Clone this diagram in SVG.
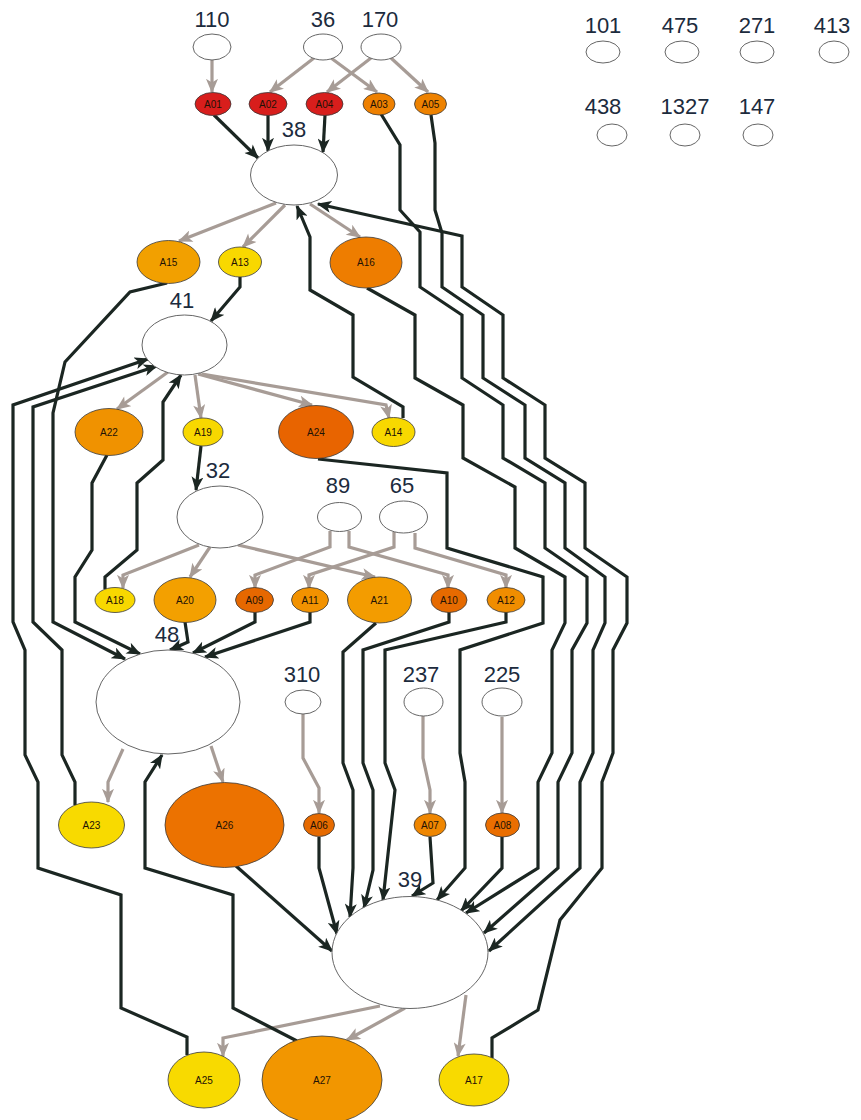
<svg xmlns="http://www.w3.org/2000/svg" width="861" height="1120" viewBox="0 0 861 1120">
<style>
.e{fill:#fff;stroke:#666;stroke-width:1}
.n{stroke:#3a3a3a;stroke-width:0.8}
.t{font-family:"Liberation Sans",Arial,sans-serif;font-size:10px;fill:#1e1206;text-anchor:middle}
.l{font-family:"Liberation Sans",Arial,sans-serif;font-size:22px;fill:#1c2b3d;text-anchor:middle}
.g{fill:none;stroke:#a79c96;stroke-width:3.2;marker-end:url(#ag)}
.d{fill:none;stroke:#1b2622;stroke-width:3.2;marker-end:url(#ad)}
</style>
<defs>
<marker id="ag" markerUnits="userSpaceOnUse" markerWidth="15" markerHeight="12" viewBox="0 0 12 10" refX="11" refY="5" orient="auto"><path d="M0,0 L12,5 L0,10 L3,5 z" fill="#a79c96"/></marker>
<marker id="ad" markerUnits="userSpaceOnUse" markerWidth="15" markerHeight="12" viewBox="0 0 12 10" refX="11" refY="5" orient="auto"><path d="M0,0 L12,5 L0,10 L3,5 z" fill="#1b2622"/></marker>
</defs>
<rect width="861" height="1120" fill="#fff"/>
<g id="connectors">
<path class="g" d="M212,60 L212,92"/>
<path class="g" d="M314,58 L270,92"/>
<path class="g" d="M331,58 L377,92"/>
<path class="g" d="M371,58 L327,92"/>
<path class="g" d="M391,58 L428,92"/>
<path class="g" d="M276,203 L179,241"/>
<path class="g" d="M285,205 L243,247"/>
<path class="g" d="M310,204 L360,237"/>
<path class="g" d="M168,372 L117,409"/>
<path class="g" d="M195,375 L201,418"/>
<path class="g" d="M198,374 L312,405"/>
<path class="g" d="M202,374 L386,405 L389,418"/>
<path class="g" d="M199,545 L123,575 L123,588"/>
<path class="g" d="M210,547 L190,577"/>
<path class="g" d="M238,545 L375,577"/>
<path class="g" d="M330,531 L330,547 L255,575 L255,588"/>
<path class="g" d="M349,531 L349,547 L448,575 L448,588"/>
<path class="g" d="M394,532 L394,547 L309,575 L309,588"/>
<path class="g" d="M415,533 L415,548 L506,575 L506,588"/>
<path class="g" d="M123,749 L108,782 L108,802"/>
<path class="g" d="M211,746 L223,782"/>
<path class="g" d="M303,714 L303,758 L319,788 L319,813"/>
<path class="g" d="M423,716 L423,758 L430,790 L430,813"/>
<path class="g" d="M502,717 L502,813"/>
<path class="g" d="M380,1006 L223,1038 L223,1056"/>
<path class="g" d="M405,1008 L347,1040"/>
<path class="g" d="M466,995 L458,1056"/>
<path class="d" d="M214,115 L258,158"/>
<path class="d" d="M268,115 L268,151"/>
<path class="d" d="M325,115 L323,152"/>
<path class="d" d="M381,114 L400,145 L400,210 L420,232 L420,287 L462,315 L462,378 L503,405 L503,458 L545,483 L545,548 L587,577 L587,623 L572,650 L572,753 L558,782 L558,868 L484,933"/>
<path class="d" d="M431,115 L435,143 L435,210 L442,233 L442,287 L483,315 L483,378 L525,405 L525,458 L565,483 L565,548 L605,577 L605,623 L593,650 L593,753 L580,782 L580,868 L489,951"/>
<path class="d" d="M367,288 L415,315 L415,378 L463,405 L463,458 L515,487 L515,548 L565,577 L565,623 L552,650 L552,753 L538,782 L538,868 L466,913"/>
<path class="d" d="M318,459 L447,473 L447,548 L543,577 L543,623 L460,650 L460,753 L465,782 L465,868 L437,900"/>
<path class="d" d="M492,1058 L492,1038 L538,1010 L560,920 L602,868 L602,782 L613,753 L613,650 L627,623 L627,577 L585,548 L585,483 L545,458 L545,405 L503,378 L503,315 L462,287 L462,236 L318,204"/>
<path class="d" d="M403,418 L403,407 L353,377 L353,315 L310,290 L310,237 L297,206"/>
<path class="d" d="M240,277 L240,287 L211,321"/>
<path class="d" d="M201,446 L196,490"/>
<path class="d" d="M167,283 L130,292 L65,362 L53,413 L53,622 L125,659"/>
<path class="d" d="M107,455 L92,483 L92,550 L75,577 L75,622 L140,654"/>
<path class="d" d="M105,589 L105,577 L137,550 L137,483 L163,460 L163,402 L181,375"/>
<path class="d" d="M185,622 L188,642 L170,650"/>
<path class="d" d="M255,612 L255,622 L193,653"/>
<path class="d" d="M310,612 L310,622 L205,657"/>
<path class="d" d="M376,623 L343,652 L343,763 L353,790 L353,868 L350,917"/>
<path class="d" d="M449,612 L449,622 L363,650 L363,763 L373,790 L373,870 L364,908"/>
<path class="d" d="M506,612 L506,622 L385,650 L385,763 L395,790 L383,900"/>
<path class="d" d="M236,866 L332,951"/>
<path class="d" d="M319,837 L319,868 L337,934"/>
<path class="d" d="M430,837 L433,883 L412,896"/>
<path class="d" d="M502,837 L502,868 L461,911"/>
<path class="d" d="M75,805 L75,782 L62,755 L62,650 L33,622 L33,407 L157,366"/>
<path class="d" d="M187,1055 L187,1037 L121,1008 L121,895 L38,868 L38,782 L25,755 L25,650 L13,622 L13,405 L148,359"/>
<path class="d" d="M297,1041 L233,1008 L233,895 L145,868 L145,782 L162,755"/>
</g>
<g id="n110"><ellipse class="e" cx="212" cy="47" rx="19" ry="13"/><text class="l" x="212" y="27">110</text></g>
<g id="n36"><ellipse class="e" cx="323" cy="47" rx="19.5" ry="13"/><text class="l" x="323" y="27">36</text></g>
<g id="n170"><ellipse class="e" cx="381" cy="47" rx="20" ry="13"/><text class="l" x="380" y="27">170</text></g>
<g id="n101"><ellipse class="e" cx="603" cy="52" rx="17" ry="11"/><text class="l" x="603" y="33">101</text></g>
<g id="n475"><ellipse class="e" cx="682" cy="52" rx="17" ry="11"/><text class="l" x="680" y="33">475</text></g>
<g id="n271"><ellipse class="e" cx="757" cy="52" rx="17" ry="11"/><text class="l" x="757" y="33">271</text></g>
<g id="n413"><ellipse class="e" cx="834" cy="52" rx="15" ry="11"/><text class="l" x="832" y="33">413</text></g>
<g id="n438"><ellipse class="e" cx="612" cy="135" rx="15" ry="11"/><text class="l" x="603" y="114">438</text></g>
<g id="n1327"><ellipse class="e" cx="685" cy="135" rx="15" ry="11"/><text class="l" x="685" y="114">1327</text></g>
<g id="n147"><ellipse class="e" cx="758" cy="135" rx="15" ry="11"/><text class="l" x="757" y="114">147</text></g>
<g id="n38"><ellipse class="e" cx="294" cy="175" rx="43.5" ry="30"/><text class="l" x="294" y="137">38</text></g>
<g id="n41"><ellipse class="e" cx="184.5" cy="345" rx="42.5" ry="30"/><text class="l" x="182" y="308">41</text></g>
<g id="n32"><ellipse class="e" cx="220" cy="517" rx="43" ry="31"/><text class="l" x="218" y="478">32</text></g>
<g id="n89"><ellipse class="e" cx="339.5" cy="517" rx="22" ry="14.5"/><text class="l" x="338" y="493">89</text></g>
<g id="n65"><ellipse class="e" cx="403.5" cy="517" rx="24" ry="16"/><text class="l" x="402" y="493">65</text></g>
<g id="n48"><ellipse class="e" cx="168" cy="702" rx="72" ry="52"/><text class="l" x="167" y="642">48</text></g>
<g id="n310"><ellipse class="e" cx="303" cy="702" rx="18" ry="12"/><text class="l" x="302" y="682">310</text></g>
<g id="n237"><ellipse class="e" cx="423.5" cy="702" rx="19.5" ry="14"/><text class="l" x="421" y="682">237</text></g>
<g id="n225"><ellipse class="e" cx="502" cy="702" rx="20" ry="14"/><text class="l" x="502" y="682">225</text></g>
<g id="n39"><ellipse class="e" cx="410" cy="952.5" rx="78" ry="56"/><text class="l" x="410" y="887">39</text></g>
<g id="A01"><ellipse class="n" cx="213" cy="104" rx="18" ry="11.5" fill="#d81e1c"/><text class="t" x="213" y="107.5">A01</text></g>
<g id="A02"><ellipse class="n" cx="268" cy="104" rx="19" ry="11.5" fill="#d81e1c"/><text class="t" x="268" y="107.5">A02</text></g>
<g id="A04"><ellipse class="n" cx="324.5" cy="104" rx="18.5" ry="11.5" fill="#d81e1c"/><text class="t" x="324.5" y="107.5">A04</text></g>
<g id="A03"><ellipse class="n" cx="379" cy="104" rx="16" ry="11" fill="#ee8000"/><text class="t" x="379" y="107.5">A03</text></g>
<g id="A05"><ellipse class="n" cx="430.5" cy="104" rx="16" ry="11" fill="#ee8200"/><text class="t" x="430.5" y="107.5">A05</text></g>
<g id="A15"><ellipse class="n" cx="168.5" cy="262" rx="31.5" ry="21.5" fill="#f2a000"/><text class="t" x="168.5" y="265.5">A15</text></g>
<g id="A13"><ellipse class="n" cx="240" cy="262" rx="21.5" ry="15" fill="#f8d800"/><text class="t" x="240" y="265.5">A13</text></g>
<g id="A16"><ellipse class="n" cx="366" cy="262.5" rx="36" ry="25.5" fill="#ee7d00"/><text class="t" x="366" y="266">A16</text></g>
<g id="A22"><ellipse class="n" cx="109" cy="432" rx="34" ry="23.5" fill="#f09200"/><text class="t" x="109" y="435.5">A22</text></g>
<g id="A19"><ellipse class="n" cx="203" cy="432" rx="20" ry="14" fill="#f8d800"/><text class="t" x="203" y="435.5">A19</text></g>
<g id="A24"><ellipse class="n" cx="316" cy="432" rx="37.5" ry="26.5" fill="#e86400"/><text class="t" x="316" y="435.5">A24</text></g>
<g id="A14"><ellipse class="n" cx="393.5" cy="432" rx="21.5" ry="14.5" fill="#f8d800"/><text class="t" x="393.5" y="435.5">A14</text></g>
<g id="A18"><ellipse class="n" cx="115" cy="600" rx="20" ry="12.5" fill="#f8d800"/><text class="t" x="115" y="603.5">A18</text></g>
<g id="A20"><ellipse class="n" cx="185" cy="600" rx="31" ry="22.5" fill="#f3a000"/><text class="t" x="185" y="603.5">A20</text></g>
<g id="A09"><ellipse class="n" cx="254.5" cy="600" rx="19" ry="12.5" fill="#e66800"/><text class="t" x="254.5" y="603.5">A09</text></g>
<g id="A11"><ellipse class="n" cx="310" cy="600" rx="18.5" ry="12.5" fill="#f29200"/><text class="t" x="310" y="603.5">A11</text></g>
<g id="A21"><ellipse class="n" cx="379.5" cy="600" rx="32" ry="23" fill="#f39c00"/><text class="t" x="379.5" y="603.5">A21</text></g>
<g id="A10"><ellipse class="n" cx="449" cy="600" rx="18" ry="12.5" fill="#e66a00"/><text class="t" x="449" y="603.5">A10</text></g>
<g id="A12"><ellipse class="n" cx="506" cy="600" rx="19" ry="12.5" fill="#f08d00"/><text class="t" x="506" y="603.5">A12</text></g>
<g id="A23"><ellipse class="n" cx="91.5" cy="825" rx="33" ry="23" fill="#f8da00"/><text class="t" x="91.5" y="828.5">A23</text></g>
<g id="A26"><ellipse class="n" cx="224.5" cy="825" rx="59.5" ry="42.5" fill="#ec7200"/><text class="t" x="224.5" y="828.5">A26</text></g>
<g id="A06"><ellipse class="n" cx="319" cy="825" rx="15.5" ry="11.5" fill="#e66a00"/><text class="t" x="319" y="828.5">A06</text></g>
<g id="A07"><ellipse class="n" cx="430" cy="825" rx="16" ry="11.5" fill="#ef8600"/><text class="t" x="430" y="828.5">A07</text></g>
<g id="A08"><ellipse class="n" cx="502.5" cy="825" rx="17" ry="12" fill="#ea6e00"/><text class="t" x="502.5" y="828.5">A08</text></g>
<g id="A25"><ellipse class="n" cx="204" cy="1080" rx="36" ry="28" fill="#f8da00"/><text class="t" x="204" y="1083.5">A25</text></g>
<g id="A27"><ellipse class="n" cx="322" cy="1080" rx="60" ry="44" fill="#f29600"/><text class="t" x="322" y="1083.5">A27</text></g>
<g id="A17"><ellipse class="n" cx="474" cy="1080" rx="35" ry="26" fill="#f8da00"/><text class="t" x="474" y="1083.5">A17</text></g>
</svg>
